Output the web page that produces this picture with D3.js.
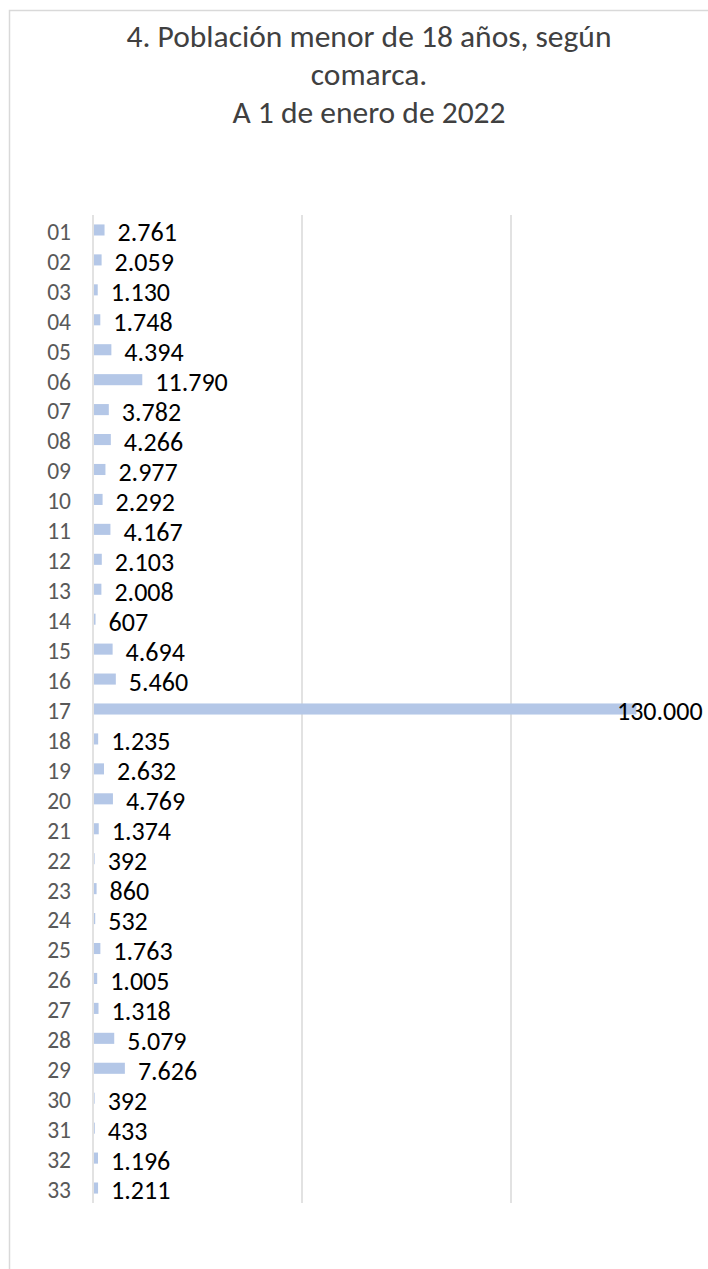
<!DOCTYPE html>
<html>
<head>
<meta charset="utf-8">
<script src="https://cdn.jsdelivr.net/npm/d3@7"></script>
<style>
  html, body { margin: 0; padding: 0; background: #fff; }
  svg { display: block; }
  text { font-family: Carlito, Calibri, "Open Sans", sans-serif; }
</style>
</head>
<body>
<div id="chart"></div>
<script>
const CATEGORIES = ["01","02","03","04","05","06","07","08","09","10","11","12","13","14","15","16","17",
  "18","19","20","21","22","23","24","25","26","27","28","29","30","31","32","33"];
const VALUES = [2761, 2059, 1130, 1748, 4394, 11790, 3782, 4266, 2977, 2292, 4167, 2103, 2008, 607, 4694, 5460,
  130000, 1235, 2632, 4769, 1374, 392, 860, 532, 1763, 1005, 1318, 5079, 7626, 392, 433, 1196, 1211];
const X_TICKS = [0, 50000, 100000, 150000];
const TITLE_LINES = ["4. Población menor de 18 años, según", "comarca.", "A 1 de enero de 2022"];

const W = 708, H = 1269;
const data = CATEGORIES.map((c, i) => ({ cat: c, value: VALUES[i] }));
const locale = d3.formatLocale({ decimal: ",", thousands: ".", grouping: [3], currency: ["", "€"] });
const fmt = locale.format(",d");

const svg = d3.select("#chart").append("svg")
  .attr("width", W).attr("height", H)
  .attr("viewBox", `0 0 ${W} ${H}`);

// chart frame (runs off the right and bottom edges in the original)
svg.append("rect")
  .attr("x", 9.5).attr("y", 10.5)
  .attr("width", W + 20).attr("height", H + 20)
  .attr("fill", "#fff").attr("stroke", "#d9d9d9").attr("stroke-width", 1.5);

const title = svg.append("text")
  .attr("text-anchor", "middle")
  .attr("font-size", 31.5)
  .attr("fill", "#404040");
TITLE_LINES.forEach((line, i) => {
  title.append("tspan").attr("x", 369).attr("y", 46.7 + i * 38.2).text(line);
});

const x = d3.scaleLinear().domain([0, 150000]).range([93, 720]);
const y = d3.scaleBand().domain(CATEGORIES).range([215, 1203]).paddingInner(0.63).paddingOuter(0.315);

const grid = svg.append("g");
grid.selectAll("line")
  .data(X_TICKS)
  .join("line")
  .attr("x1", (d) => x(d)).attr("x2", (d) => x(d))
  .attr("y1", 215).attr("y2", 1203)
  .attr("stroke", "#d9d9d9").attr("stroke-width", 1.5);

svg.append("g")
  .selectAll("rect")
  .data(data)
  .join("rect")
  .attr("x", x(0) + 1)
  .attr("y", (d) => y(d.cat))
  .attr("width", (d) => Math.max(0, x(d.value) - x(0) - 1))
  .attr("height", y.bandwidth())
  .attr("fill", "#b4c7e7");

const yAxis = svg.append("g")
  .attr("transform", `translate(${x(0)},0)`)
  .call(d3.axisLeft(y).tickSize(0).tickPadding(22));
yAxis.select(".domain").remove();
yAxis.selectAll("text")
  .attr("dy", "0.42em")
  .attr("font-size", 23.5)
  .attr("fill", "#595959")
  .style("font-family", "Carlito, Calibri, 'Open Sans', sans-serif");

// value labels; the big one is pushed back inside the chart area, as in the original
svg.append("g")
  .selectAll("text")
  .data(data)
  .join("text")
  .attr("x", (d) => Math.min(x(d.value) + 13, 617))
  .attr("y", (d) => y(d.cat) + y.bandwidth() / 2)
  .attr("dy", "0.44em")
  .attr("font-size", 26)
  .attr("fill", "#000")
  .text((d) => fmt(d.value));
</script>
</body>
</html>
